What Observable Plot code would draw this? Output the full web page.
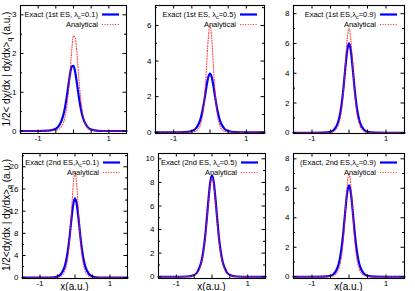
<!DOCTYPE html>
<html><head><meta charset="utf-8">
<script src="https://cdn.jsdelivr.net/npm/d3@7"></script>
<script src="https://cdn.jsdelivr.net/npm/@observablehq/plot@0.6"></script>
<style>
body{margin:0;background:#fff;}
#chart{position:relative;width:415px;height:291px;font-family:"Liberation Sans",Arial,sans-serif;}
#chart svg{position:absolute;overflow:visible;}
</style></head><body><div id="chart"></div>
<script>
// ---- data ----
const xGrid = [-1.5,-1,-0.7,-0.5,-0.4,-0.3,-0.25,-0.2,-0.15,-0.1,-0.05,0,0.05,0.1,0.15,0.2,0.25,0.3,0.4,0.5,0.7,1,1.5];

const exact1 = [0,0,0.008,0.055,0.15,0.37,0.56,0.83,1.14,1.46,1.66,1.68,1.51,1.21,0.89,0.61,0.40,0.26,0.10,0.037,0.005,0,0];
const analytical1 = [0,0,0,0.015,0.05,0.18,0.32,0.57,0.95,1.49,2.08,2.46,2.41,1.97,1.37,0.86,0.51,0.28,0.085,0.025,0.002,0,0];
const exact2 = [0,0,0.01,0.07,0.19,0.52,0.83,1.28,1.87,2.53,3.08,3.30,3.08,2.53,1.87,1.28,0.83,0.52,0.19,0.07,0.01,0,0];
const analytical2 = [0,0,0,0.01,0.05,0.24,0.50,1.01,1.97,3.49,5.20,6.00,5.20,3.49,1.97,1.01,0.50,0.24,0.05,0.01,0,0,0];
const exact3 = [0,0,0.01,0.07,0.22,0.67,1.14,1.90,3.00,4.33,5.50,6.00,5.50,4.33,3.00,1.90,1.14,0.67,0.22,0.07,0.01,0,0];
const analytical3 = [0,0,0,0.03,0.11,0.43,0.84,1.58,2.80,4.50,6.25,7.00,6.25,4.50,2.80,1.58,0.84,0.43,0.11,0.03,0,0,0];
const exact4 = [0,0,0.02,0.21,0.66,1.90,3.15,5.05,7.65,10.67,13.24,14.3,13.24,10.67,7.65,5.05,3.15,1.90,0.66,0.21,0.02,0,0];
const analytical4 = [0,0,0,0.06,0.25,1.01,2.03,3.88,7.13,11.84,16.78,19.0,16.78,11.84,7.13,3.88,2.03,1.01,0.25,0.06,0,0,0];
const exact5 = [0,0,0.02,0.15,0.45,1.25,2.03,3.18,4.76,6.51,8.00,8.60,8.00,6.51,4.76,3.18,2.03,1.25,0.45,0.15,0.02,0,0];
const analytical5 = [0,0,0.01,0.13,0.39,1.12,1.85,2.97,4.49,6.27,7.78,8.40,7.78,6.27,4.49,2.97,1.85,1.12,0.39,0.13,0.01,0,0];
const exact6 = [0,0,0.01,0.07,0.22,0.69,1.18,1.97,3.10,4.47,5.69,6.20,5.69,4.47,3.10,1.97,1.18,0.69,0.22,0.07,0.01,0,0];
const analytical6 = [0,0,0,0.02,0.09,0.37,0.75,1.43,2.63,4.36,6.18,7.00,6.18,4.36,2.63,1.43,0.75,0.37,0.09,0.02,0,0,0];

const xTickLabels = [-1, 1];
const xTicks = [-1, -0.5, 0, 0.5, 1];
const yLabels1 = [0,1,2,3],        yTicks1 = [0,0.5,1,1.5,2,2.5,3];
const yLabels2 = [0,2,4,6],        yTicks2 = [0,1,2,3,4,5,6,7];
const yLabels3 = [0,2,4,6,8],      yTicks3 = [0,1,2,3,4,5,6,7,8];
const yLabels4 = [0,4,8,12,16,20], yTicks4 = [0,2,4,6,8,10,12,14,16,18,20,22];
const yLabels5 = [0,2,4,6,8,10],   yTicks5 = [0,1,2,3,4,5,6,7,8,9,10];
const yLabels6 = [0,2,4,6,8],      yTicks6 = [0,1,2,3,4,5,6,7,8];

const legendExact = [
  ["Exact (1st ES, λ", "c", "=0.1)"],
  ["Exact (1st ES, λ", "c", "=0.5)"],
  ["Exact (1st ES,λ", "c", "=0.9)"],
  ["Exact (2nd ES,λ", "c", "=0.1)"],
  ["Exact (2nd ES, λ", "c", "=0.5)"],
  ["(Exact, 2nd ES,λ", "c", "=0.9)"]
];
const legendAnalytical = "Analytical";
const yTitles = [["1/2< dχ/dx | dχ/dx>", "q", " (a.u.)"], ["1/2<dχ/dx | dχ/dx>", "q", " (a.u.)"]];
const xTitle = "x(a.u.)";

// ---- layout ----
const FONT = '"Liberation Sans", Arial, sans-serif';
const RED = "#ff2020", DASH = "1,1.6";
const panels = [
  {frame:[20,5,126,133],   yDomain:[-0.065,3.24], exact:exact1, analytical:analytical1, labels:yLabels1, ticks:yTicks1},
  {frame:[155,5,264,133],  yDomain:[-0.07,7.12],  exact:exact2, analytical:analytical2, labels:yLabels2, ticks:yTicks2},
  {frame:[293,5,404,133],  yDomain:[-0.05,8.55],  exact:exact3, analytical:analytical3, labels:yLabels3, ticks:yTicks3},
  {frame:[22,153,127,278], yDomain:[-0.15,22.4],  exact:exact4, analytical:analytical4, labels:yLabels4, ticks:yTicks4},
  {frame:[158,153,265,278],yDomain:[-0.15,10.45], exact:exact5, analytical:analytical5, labels:yLabels5, ticks:yTicks5},
  {frame:[293,153,404,278],yDomain:[-0.12,8.36],  exact:exact6, analytical:analytical6, labels:yLabels6, ticks:yTicks6}
];

const chart = document.getElementById("chart");
const ml = 22, mr = 4, mt = 4, mb = 14;

panels.forEach((p, k) => {
  const [x0,y0,x1,y1] = p.frame;
  const W = x1 - x0, H = y1 - y0;
  const ex = xGrid.map((x,i)=>({x, y:p.exact[i]}));
  const an = xGrid.map((x,i)=>({x, y:p.analytical[i]}));
  const major = p.labels, minor = p.ticks.filter(t => !p.labels.includes(t));
  const svg = Plot.plot({
    width: W+ml+mr, height: H+mt+mb,
    marginLeft: ml, marginRight: mr, marginTop: mt, marginBottom: mb,
    style: {fontFamily: FONT, fontSize: "8px", background: "transparent", color: "#000", overflow: "visible"},
    x: {domain:[-1.5,1.5], ticks: xTickLabels, tickSize: 0, tickPadding: 2, tickFormat: d => String(d), label: null},
    y: {domain: p.yDomain, ticks: major, tickSize: 0, tickPadding: 4, tickFormat: d => String(d), label: null},
    marks: [
      Plot.line(ex, {x:"x", y:"y", stroke:"#0000ff", strokeWidth:2.2, curve:"monotone-x"}),
      Plot.line(an, {x:"x", y:"y", stroke:RED, strokeWidth:1, strokeDasharray:DASH, curve:"monotone-x"}),
      Plot.frame({stroke:"#000", strokeWidth:1.1}),
      Plot.tickX(xTicks, {x:d=>d, insetTop:H-3.5, stroke:"#000"}),
      Plot.tickX(xTicks, {x:d=>d, insetBottom:H-3.5, stroke:"#000"}),
      Plot.tickY(major, {y:d=>d, insetRight:W-3.5, stroke:"#000"}),
      Plot.tickY(major, {y:d=>d, insetLeft:W-3.5, stroke:"#000"}),
      Plot.tickY(minor, {y:d=>d, insetRight:W-2, stroke:"#000"}),
      Plot.tickY(minor, {y:d=>d, insetLeft:W-2, stroke:"#000"})
    ]
  });
  svg.style.left = (x0-ml)+"px";
  svg.style.top = (y0-mt)+"px";
  chart.appendChild(svg);
});

// overlay: legends and axis titles
const ov = d3.select(chart).append("svg").attr("width",415).attr("height",291)
  .style("left","0px").style("top","0px").style("font-family",FONT);
panels.forEach((p,k) => {
  const [x0,y0,x1,y1] = p.frame;
  const ty1 = y0 + 9.5, ty2 = y0 + 19.5;
  const t = ov.append("text").attr("x", x1-28).attr("y", ty1).attr("dy","0.35em")
    .attr("text-anchor","end").attr("font-size","7.5px").attr("fill","#000");
  t.append("tspan").text(legendExact[k][0]);
  t.append("tspan").attr("dy","1.6").attr("font-size","5.5px").text(legendExact[k][1]);
  t.append("tspan").attr("dy","-1.6").text(legendExact[k][2]);
  ov.append("line").attr("x1",x1-24).attr("x2",x1-7).attr("y1",ty1).attr("y2",ty1)
    .attr("stroke","#0000ff").attr("stroke-width",2.2);
  ov.append("text").attr("x", x1-28).attr("y", ty2).attr("dy","0.35em")
    .attr("text-anchor","end").attr("font-size","7.5px").attr("fill","#000").text(legendAnalytical);
  ov.append("line").attr("x1",x1-24).attr("x2",x1-7).attr("y1",ty2).attr("y2",ty2)
    .attr("stroke",RED).attr("stroke-width",1).attr("stroke-dasharray",DASH);
});
[[6,69],[6,215]].forEach(([cx,cy],r) => {
  const t = ov.append("text").attr("transform",`translate(${cx},${cy}) rotate(-90)`)
    .attr("text-anchor","middle").attr("dy","0.35em").attr("font-size","10px").attr("fill","#000");
  t.append("tspan").text(yTitles[r][0]);
  t.append("tspan").attr("dy","2.5").attr("font-size","7px").text(yTitles[r][1]);
  t.append("tspan").attr("dy","-2.5").text(yTitles[r][2]);
});
[3,4,5].forEach(k => {
  const [x0,,x1] = panels[k].frame;
  ov.append("text").attr("x",(x0+x1)/2).attr("y",290).attr("text-anchor","middle")
    .attr("font-size","10px").attr("fill","#000").text(xTitle);
});
</script></body></html>
